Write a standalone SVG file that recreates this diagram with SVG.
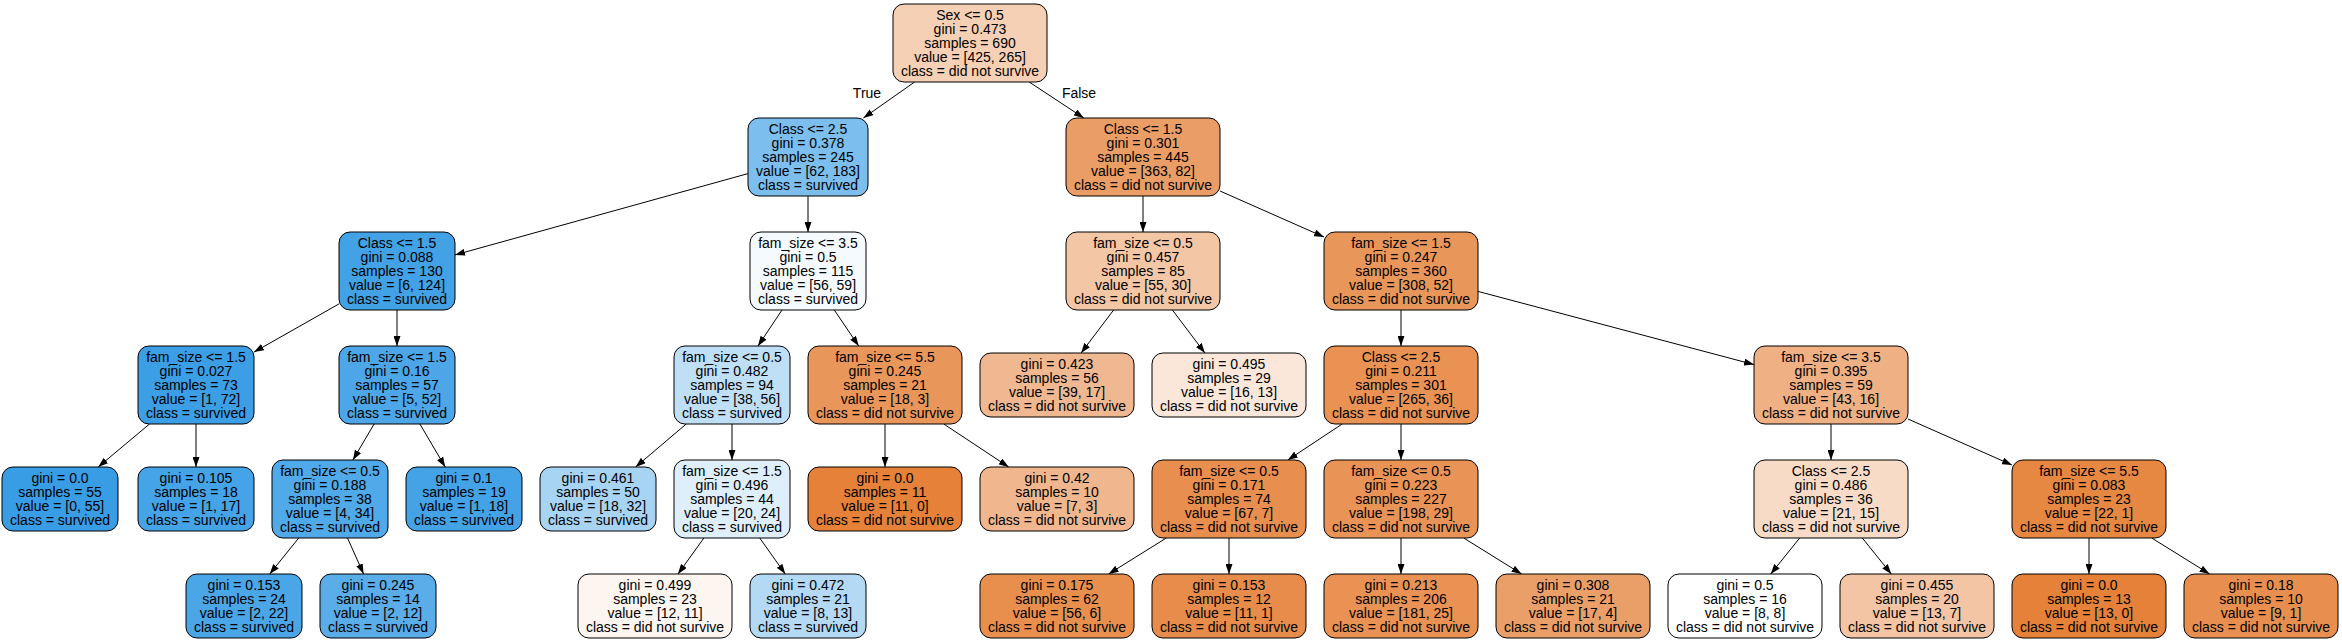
<svg xmlns="http://www.w3.org/2000/svg" width="2342" height="642" viewBox="0 0 2342 642">
<defs>
<marker id="arr" markerUnits="userSpaceOnUse" markerWidth="10" markerHeight="7" refX="10" refY="3.5" orient="auto">
<path d="M0,0 L10,3.5 L0,7 z" fill="#000"/>
</marker>
</defs>
<style>
.n rect{stroke:#000;stroke-width:1}
text{font-family:"Liberation Sans",Arial,Helvetica,sans-serif;font-size:14px;text-anchor:middle;fill:#000}
.e line{stroke:#000;stroke-width:1;marker-end:url(#arr)}
</style>
<rect width="2342" height="642" fill="#fff"/>
<g id="edges" class="e">
<line x1="914.6" y1="82" x2="863.4" y2="118"/>
<line x1="1029.2" y1="82" x2="1083.8" y2="118"/>
<line x1="748" y1="173.6" x2="455" y2="254.9"/>
<line x1="808" y1="196" x2="808" y2="232"/>
<line x1="339" y1="303.9" x2="254" y2="352.1"/>
<line x1="397" y1="310" x2="397" y2="346"/>
<line x1="149.5" y1="424" x2="98.2" y2="467"/>
<line x1="196" y1="424" x2="196" y2="467"/>
<line x1="374.1" y1="424" x2="352.9" y2="460"/>
<line x1="419.9" y1="424" x2="445.2" y2="467"/>
<line x1="298.7" y1="538" x2="269.7" y2="574"/>
<line x1="347.5" y1="538" x2="363.6" y2="574"/>
<line x1="782" y1="310" x2="758" y2="346"/>
<line x1="834.3" y1="310" x2="858.7" y2="346"/>
<line x1="686.2" y1="424" x2="635.6" y2="467"/>
<line x1="732" y1="424" x2="732" y2="460"/>
<line x1="703.9" y1="538" x2="678" y2="574"/>
<line x1="759.7" y1="538" x2="785.3" y2="574"/>
<line x1="885" y1="424" x2="885" y2="467"/>
<line x1="943.8" y1="424" x2="1008.7" y2="467"/>
<line x1="1143" y1="196" x2="1143" y2="232"/>
<line x1="1220" y1="191" x2="1324" y2="237"/>
<line x1="1113.6" y1="310" x2="1081.1" y2="353"/>
<line x1="1172.4" y1="310" x2="1204.9" y2="353"/>
<line x1="1401" y1="310" x2="1401" y2="346"/>
<line x1="1478" y1="291.4" x2="1754" y2="364.6"/>
<line x1="1342.2" y1="424" x2="1287.8" y2="460"/>
<line x1="1401" y1="424" x2="1401" y2="460"/>
<line x1="1166.3" y1="538" x2="1108.6" y2="574"/>
<line x1="1229" y1="538" x2="1229" y2="574"/>
<line x1="1401" y1="538" x2="1401" y2="574"/>
<line x1="1463.7" y1="538" x2="1521.6" y2="574"/>
<line x1="1831" y1="424" x2="1831" y2="460"/>
<line x1="1908" y1="419" x2="2012" y2="465"/>
<line x1="1799.7" y1="538" x2="1770.7" y2="574"/>
<line x1="1862.3" y1="538" x2="1891.3" y2="574"/>
<line x1="2089" y1="538" x2="2089" y2="574"/>
<line x1="2151.7" y1="538" x2="2209.6" y2="574"/>
<text x="867" y="98">True</text>
<text x="1079" y="98">False</text>
</g>
<g id="n0" class="n"><rect x="893" y="4" width="154" height="78" rx="11" fill="#f5d0b4"/><text><tspan x="970" y="20">Sex &lt;= 0.5</tspan><tspan x="970" y="34">gini = 0.473</tspan><tspan x="970" y="48">samples = 690</tspan><tspan x="970" y="62">value = [425, 265]</tspan><tspan x="970" y="76">class = did not survive</tspan></text></g>
<g id="n1" class="n"><rect x="748" y="118" width="120" height="78" rx="11" fill="#7cbeee"/><text><tspan x="808" y="134">Class &lt;= 2.5</tspan><tspan x="808" y="148">gini = 0.378</tspan><tspan x="808" y="162">samples = 245</tspan><tspan x="808" y="176">value = [62, 183]</tspan><tspan x="808" y="190">class = survived</tspan></text></g>
<g id="n20" class="n"><rect x="1066" y="118" width="154" height="78" rx="11" fill="#eb9d66"/><text><tspan x="1143" y="134">Class &lt;= 1.5</tspan><tspan x="1143" y="148">gini = 0.301</tspan><tspan x="1143" y="162">samples = 445</tspan><tspan x="1143" y="176">value = [363, 82]</tspan><tspan x="1143" y="190">class = did not survive</tspan></text></g>
<g id="n2" class="n"><rect x="339" y="232" width="116" height="78" rx="11" fill="#43a2e6"/><text><tspan x="397" y="248">Class &lt;= 1.5</tspan><tspan x="397" y="262">gini = 0.088</tspan><tspan x="397" y="276">samples = 130</tspan><tspan x="397" y="290">value = [6, 124]</tspan><tspan x="397" y="304">class = survived</tspan></text></g>
<g id="n11" class="n"><rect x="750" y="232" width="116" height="78" rx="11" fill="#f5fafe"/><text><tspan x="808" y="248">fam_size &lt;= 3.5</tspan><tspan x="808" y="262">gini = 0.5</tspan><tspan x="808" y="276">samples = 115</tspan><tspan x="808" y="290">value = [56, 59]</tspan><tspan x="808" y="304">class = survived</tspan></text></g>
<g id="n21" class="n"><rect x="1066" y="232" width="154" height="78" rx="11" fill="#f3c6a5"/><text><tspan x="1143" y="248">fam_size &lt;= 0.5</tspan><tspan x="1143" y="262">gini = 0.457</tspan><tspan x="1143" y="276">samples = 85</tspan><tspan x="1143" y="290">value = [55, 30]</tspan><tspan x="1143" y="304">class = did not survive</tspan></text></g>
<g id="n24" class="n"><rect x="1324" y="232" width="154" height="78" rx="11" fill="#e9965a"/><text><tspan x="1401" y="248">fam_size &lt;= 1.5</tspan><tspan x="1401" y="262">gini = 0.247</tspan><tspan x="1401" y="276">samples = 360</tspan><tspan x="1401" y="290">value = [308, 52]</tspan><tspan x="1401" y="304">class = did not survive</tspan></text></g>
<g id="n3" class="n"><rect x="138" y="346" width="116" height="78" rx="11" fill="#3c9ee5"/><text><tspan x="196" y="362">fam_size &lt;= 1.5</tspan><tspan x="196" y="376">gini = 0.027</tspan><tspan x="196" y="390">samples = 73</tspan><tspan x="196" y="404">value = [1, 72]</tspan><tspan x="196" y="418">class = survived</tspan></text></g>
<g id="n6" class="n"><rect x="339" y="346" width="116" height="78" rx="11" fill="#4ca6e7"/><text><tspan x="397" y="362">fam_size &lt;= 1.5</tspan><tspan x="397" y="376">gini = 0.16</tspan><tspan x="397" y="390">samples = 57</tspan><tspan x="397" y="404">value = [5, 52]</tspan><tspan x="397" y="418">class = survived</tspan></text></g>
<g id="n12" class="n"><rect x="674" y="346" width="116" height="78" rx="11" fill="#bfdff7"/><text><tspan x="732" y="362">fam_size &lt;= 0.5</tspan><tspan x="732" y="376">gini = 0.482</tspan><tspan x="732" y="390">samples = 94</tspan><tspan x="732" y="404">value = [38, 56]</tspan><tspan x="732" y="418">class = survived</tspan></text></g>
<g id="n17" class="n"><rect x="808" y="346" width="154" height="78" rx="11" fill="#e9965a"/><text><tspan x="885" y="362">fam_size &lt;= 5.5</tspan><tspan x="885" y="376">gini = 0.245</tspan><tspan x="885" y="390">samples = 21</tspan><tspan x="885" y="404">value = [18, 3]</tspan><tspan x="885" y="418">class = did not survive</tspan></text></g>
<g id="n22" class="n"><rect x="980" y="353" width="154" height="64" rx="11" fill="#f0b890"/><text><tspan x="1057" y="369">gini = 0.423</tspan><tspan x="1057" y="383">samples = 56</tspan><tspan x="1057" y="397">value = [39, 17]</tspan><tspan x="1057" y="411">class = did not survive</tspan></text></g>
<g id="n23" class="n"><rect x="1152" y="353" width="154" height="64" rx="11" fill="#fae7da"/><text><tspan x="1229" y="369">gini = 0.495</tspan><tspan x="1229" y="383">samples = 29</tspan><tspan x="1229" y="397">value = [16, 13]</tspan><tspan x="1229" y="411">class = did not survive</tspan></text></g>
<g id="n25" class="n"><rect x="1324" y="346" width="154" height="78" rx="11" fill="#e99254"/><text><tspan x="1401" y="362">Class &lt;= 2.5</tspan><tspan x="1401" y="376">gini = 0.211</tspan><tspan x="1401" y="390">samples = 301</tspan><tspan x="1401" y="404">value = [265, 36]</tspan><tspan x="1401" y="418">class = did not survive</tspan></text></g>
<g id="n32" class="n"><rect x="1754" y="346" width="154" height="78" rx="11" fill="#efb083"/><text><tspan x="1831" y="362">fam_size &lt;= 3.5</tspan><tspan x="1831" y="376">gini = 0.395</tspan><tspan x="1831" y="390">samples = 59</tspan><tspan x="1831" y="404">value = [43, 16]</tspan><tspan x="1831" y="418">class = did not survive</tspan></text></g>
<g id="n4" class="n"><rect x="2" y="467" width="116" height="64" rx="11" fill="#399de5"/><text><tspan x="60" y="483">gini = 0.0</tspan><tspan x="60" y="497">samples = 55</tspan><tspan x="60" y="511">value = [0, 55]</tspan><tspan x="60" y="525">class = survived</tspan></text></g>
<g id="n5" class="n"><rect x="138" y="467" width="116" height="64" rx="11" fill="#45a3e7"/><text><tspan x="196" y="483">gini = 0.105</tspan><tspan x="196" y="497">samples = 18</tspan><tspan x="196" y="511">value = [1, 17]</tspan><tspan x="196" y="525">class = survived</tspan></text></g>
<g id="n7" class="n"><rect x="272" y="460" width="116" height="78" rx="11" fill="#50a9e8"/><text><tspan x="330" y="476">fam_size &lt;= 0.5</tspan><tspan x="330" y="490">gini = 0.188</tspan><tspan x="330" y="504">samples = 38</tspan><tspan x="330" y="518">value = [4, 34]</tspan><tspan x="330" y="532">class = survived</tspan></text></g>
<g id="n10" class="n"><rect x="406" y="467" width="116" height="64" rx="11" fill="#44a2e6"/><text><tspan x="464" y="483">gini = 0.1</tspan><tspan x="464" y="497">samples = 19</tspan><tspan x="464" y="511">value = [1, 18]</tspan><tspan x="464" y="525">class = survived</tspan></text></g>
<g id="n13" class="n"><rect x="540" y="467" width="116" height="64" rx="11" fill="#a8d4f4"/><text><tspan x="598" y="483">gini = 0.461</tspan><tspan x="598" y="497">samples = 50</tspan><tspan x="598" y="511">value = [18, 32]</tspan><tspan x="598" y="525">class = survived</tspan></text></g>
<g id="n14" class="n"><rect x="674" y="460" width="116" height="78" rx="11" fill="#deeffb"/><text><tspan x="732" y="476">fam_size &lt;= 1.5</tspan><tspan x="732" y="490">gini = 0.496</tspan><tspan x="732" y="504">samples = 44</tspan><tspan x="732" y="518">value = [20, 24]</tspan><tspan x="732" y="532">class = survived</tspan></text></g>
<g id="n18" class="n"><rect x="808" y="467" width="154" height="64" rx="11" fill="#e58139"/><text><tspan x="885" y="483">gini = 0.0</tspan><tspan x="885" y="497">samples = 11</tspan><tspan x="885" y="511">value = [11, 0]</tspan><tspan x="885" y="525">class = did not survive</tspan></text></g>
<g id="n19" class="n"><rect x="980" y="467" width="154" height="64" rx="11" fill="#f0b78e"/><text><tspan x="1057" y="483">gini = 0.42</tspan><tspan x="1057" y="497">samples = 10</tspan><tspan x="1057" y="511">value = [7, 3]</tspan><tspan x="1057" y="525">class = did not survive</tspan></text></g>
<g id="n26" class="n"><rect x="1152" y="460" width="154" height="78" rx="11" fill="#e88e4e"/><text><tspan x="1229" y="476">fam_size &lt;= 0.5</tspan><tspan x="1229" y="490">gini = 0.171</tspan><tspan x="1229" y="504">samples = 74</tspan><tspan x="1229" y="518">value = [67, 7]</tspan><tspan x="1229" y="532">class = did not survive</tspan></text></g>
<g id="n29" class="n"><rect x="1324" y="460" width="154" height="78" rx="11" fill="#e99356"/><text><tspan x="1401" y="476">fam_size &lt;= 0.5</tspan><tspan x="1401" y="490">gini = 0.223</tspan><tspan x="1401" y="504">samples = 227</tspan><tspan x="1401" y="518">value = [198, 29]</tspan><tspan x="1401" y="532">class = did not survive</tspan></text></g>
<g id="n33" class="n"><rect x="1754" y="460" width="154" height="78" rx="11" fill="#f8dbc6"/><text><tspan x="1831" y="476">Class &lt;= 2.5</tspan><tspan x="1831" y="490">gini = 0.486</tspan><tspan x="1831" y="504">samples = 36</tspan><tspan x="1831" y="518">value = [21, 15]</tspan><tspan x="1831" y="532">class = did not survive</tspan></text></g>
<g id="n36" class="n"><rect x="2012" y="460" width="154" height="78" rx="11" fill="#e68742"/><text><tspan x="2089" y="476">fam_size &lt;= 5.5</tspan><tspan x="2089" y="490">gini = 0.083</tspan><tspan x="2089" y="504">samples = 23</tspan><tspan x="2089" y="518">value = [22, 1]</tspan><tspan x="2089" y="532">class = did not survive</tspan></text></g>
<g id="n8" class="n"><rect x="186" y="574" width="116" height="64" rx="11" fill="#4ba6e7"/><text><tspan x="244" y="590">gini = 0.153</tspan><tspan x="244" y="604">samples = 24</tspan><tspan x="244" y="618">value = [2, 22]</tspan><tspan x="244" y="632">class = survived</tspan></text></g>
<g id="n9" class="n"><rect x="320" y="574" width="116" height="64" rx="11" fill="#5aade9"/><text><tspan x="378" y="590">gini = 0.245</tspan><tspan x="378" y="604">samples = 14</tspan><tspan x="378" y="618">value = [2, 12]</tspan><tspan x="378" y="632">class = survived</tspan></text></g>
<g id="n15" class="n"><rect x="578" y="574" width="154" height="64" rx="11" fill="#fdf5ef"/><text><tspan x="655" y="590">gini = 0.499</tspan><tspan x="655" y="604">samples = 23</tspan><tspan x="655" y="618">value = [12, 11]</tspan><tspan x="655" y="632">class = did not survive</tspan></text></g>
<g id="n16" class="n"><rect x="750" y="574" width="116" height="64" rx="11" fill="#b3d9f5"/><text><tspan x="808" y="590">gini = 0.472</tspan><tspan x="808" y="604">samples = 21</tspan><tspan x="808" y="618">value = [8, 13]</tspan><tspan x="808" y="632">class = survived</tspan></text></g>
<g id="n27" class="n"><rect x="980" y="574" width="154" height="64" rx="11" fill="#e88f4e"/><text><tspan x="1057" y="590">gini = 0.175</tspan><tspan x="1057" y="604">samples = 62</tspan><tspan x="1057" y="618">value = [56, 6]</tspan><tspan x="1057" y="632">class = did not survive</tspan></text></g>
<g id="n28" class="n"><rect x="1152" y="574" width="154" height="64" rx="11" fill="#e78c4b"/><text><tspan x="1229" y="590">gini = 0.153</tspan><tspan x="1229" y="604">samples = 12</tspan><tspan x="1229" y="618">value = [11, 1]</tspan><tspan x="1229" y="632">class = did not survive</tspan></text></g>
<g id="n30" class="n"><rect x="1324" y="574" width="154" height="64" rx="11" fill="#e99254"/><text><tspan x="1401" y="590">gini = 0.213</tspan><tspan x="1401" y="604">samples = 206</tspan><tspan x="1401" y="618">value = [181, 25]</tspan><tspan x="1401" y="632">class = did not survive</tspan></text></g>
<g id="n31" class="n"><rect x="1496" y="574" width="154" height="64" rx="11" fill="#eb9f68"/><text><tspan x="1573" y="590">gini = 0.308</tspan><tspan x="1573" y="604">samples = 21</tspan><tspan x="1573" y="618">value = [17, 4]</tspan><tspan x="1573" y="632">class = did not survive</tspan></text></g>
<g id="n34" class="n"><rect x="1668" y="574" width="154" height="64" rx="11" fill="#ffffff"/><text><tspan x="1745" y="590">gini = 0.5</tspan><tspan x="1745" y="604">samples = 16</tspan><tspan x="1745" y="618">value = [8, 8]</tspan><tspan x="1745" y="632">class = did not survive</tspan></text></g>
<g id="n35" class="n"><rect x="1840" y="574" width="154" height="64" rx="11" fill="#f3c5a4"/><text><tspan x="1917" y="590">gini = 0.455</tspan><tspan x="1917" y="604">samples = 20</tspan><tspan x="1917" y="618">value = [13, 7]</tspan><tspan x="1917" y="632">class = did not survive</tspan></text></g>
<g id="n37" class="n"><rect x="2012" y="574" width="154" height="64" rx="11" fill="#e58139"/><text><tspan x="2089" y="590">gini = 0.0</tspan><tspan x="2089" y="604">samples = 13</tspan><tspan x="2089" y="618">value = [13, 0]</tspan><tspan x="2089" y="632">class = did not survive</tspan></text></g>
<g id="n38" class="n"><rect x="2184" y="574" width="154" height="64" rx="11" fill="#e88f4f"/><text><tspan x="2261" y="590">gini = 0.18</tspan><tspan x="2261" y="604">samples = 10</tspan><tspan x="2261" y="618">value = [9, 1]</tspan><tspan x="2261" y="632">class = did not survive</tspan></text></g>
</svg>
